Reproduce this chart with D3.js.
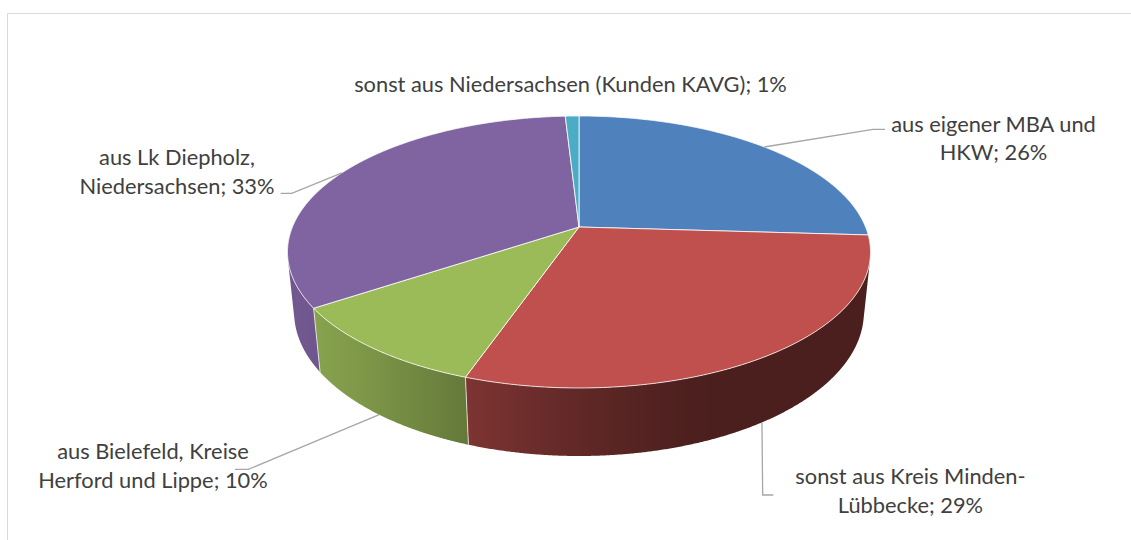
<!DOCTYPE html>
<html><head><meta charset="utf-8">
<script src="https://cdn.jsdelivr.net/npm/d3@7"></script>
<style>body{margin:0;background:#fff;} svg{display:block;}</style>
</head><body>
<svg id="chart" width="1131" height="540"></svg>
<script>
// ---- data ----
const categories = ["aus eigener MBA und HKW", "sonst aus Kreis Minden-Lübbecke", "aus Bielefeld, Kreise Herford und Lippe", "aus Lk Diepholz, Niedersachsen", "sonst aus Niedersachsen (Kunden KAVG)"];
const values = [25.9, 29.3, 10.3, 33.4, 0.9];
const labelWraps = [["aus eigener MBA und", "HKW"], ["sonst aus Kreis Minden-", "Lübbecke"], ["aus Bielefeld, Kreise", "Herford und Lippe"], ["aus Lk Diepholz,", "Niedersachsen"], ["sonst aus Niedersachsen (Kunden KAVG)"]];
const colors = ["#4f81bd", "#c0504d", "#9bbb59", "#8064a2", "#4bacc6"];

// ---- layout ----
const labelPos = [{x: 993.5, y: 131.7}, {x: 910.5, y: 484}, {x: 153, y: 459.3}, {x: 177, y: 165}, {x: 570.5, y: 92}];
const leaders = [
  {rim: "top", pts: [[873, 129.3], [885, 129.3]]},
  {rim: "bottom", pts: [[762.7, 495], [773.3, 495]]},
  {rim: "bottom", pts: [[248.3, 469.3], [235, 469.3]]},
  {rim: "top", pts: [[291.7, 193.3], [280.7, 193.3]]},
  null
];
const lineGap = 28.5;

const svg = d3.select("#chart");
svg.append("rect").attr("x", 7.5).attr("y", 13.5).attr("width", 1200).attr("height", 600)
  .attr("fill", "none").attr("stroke", "#d9d9d9").attr("stroke-width", 1);

// perspective projection of the pie
const cx = 579, cy = 227, F = 1386.4, K = 4.838, phi = 27.29 * Math.PI / 180;
const S = Math.sin(phi), C = Math.cos(phi), H = 0.2384;
function proj(t, h) {
  const X = Math.sin(t), Z = -Math.cos(t), Y = h;
  const up = Y * C - Z * S;
  const tw = Y * S + Z * C;
  const d = K - tw;
  return [cx + F * X / d, cy - F * up / d];
}
const rad = Math.PI / 180;
const visA = Math.acos(-1 / (K * C)), visB = 2 * Math.PI - visA;

const pie = d3.pie().sort(null).value(d => d).startAngle(0).endAngle(2 * Math.PI);
const arcs = pie(values);
const total = d3.sum(values);

function samples(a0, a1) {
  const n = Math.max(2, Math.ceil((a1 - a0) / (0.25 * rad)));
  return d3.range(n + 1).map(i => a0 + (a1 - a0) * i / n);
}
const line = d3.line();
const closed = d3.line().curve(d3.curveLinearClosed);

function shade(t) {
  const c = Math.max(0, Math.cos(t - 245 * rad));
  return 0.39 + 0.49 * Math.pow(c, 1.7);
}
const defs = svg.append("defs");

// side walls
const gWall = svg.append("g");
arcs.forEach((a, i) => {
  const a0 = Math.max(a.startAngle, visA), a1 = Math.min(a.endAngle, visB);
  if (a1 <= a0) return;
  const ts = samples(a0, a1);
  const top = ts.map(t => proj(t, 0));
  const bot = ts.slice().reverse().map(t => proj(t, -H));
  const xl = proj(a1, 0)[0], xr = proj(a0, 0)[0];
  const base = d3.rgb(colors[i]);
  const grad = defs.append("linearGradient").attr("id", "wall" + i)
    .attr("gradientUnits", "userSpaceOnUse").attr("x1", xl).attr("x2", xr).attr("y1", 0).attr("y2", 0);
  samples(a0, a1).filter((d, j, arr) => j % 8 === 0 || j === arr.length - 1).reverse().forEach(t => {
    const x = proj(t, 0)[0];
    const f = shade(t);
    grad.append("stop").attr("offset", (xr === xl ? 0 : (x - xl) / (xr - xl)))
      .attr("stop-color", d3.rgb(base.r * f, base.g * f, base.b * f).formatHex());
  });
  gWall.append("path").attr("d", closed(top.concat(bot))).attr("fill", `url(#wall${i})`);
});
// wall boundary lines
arcs.forEach(a => {
  const t = a.startAngle;
  if (t > visA && t < visB) {
    gWall.append("path").attr("d", line([proj(t, 0), proj(t, -H)]))
      .attr("stroke", "#ffffff").attr("stroke-opacity", 0.7).attr("stroke-width", 1);
  }
});

// top faces
const gTop = svg.append("g");
arcs.forEach((a, i) => {
  const pts = [[cx, cy]].concat(samples(a.startAngle, a.endAngle).map(t => proj(t, 0)));
  gTop.append("path").attr("d", closed(pts)).attr("fill", colors[i])
    .attr("stroke", "#ffffff").attr("stroke-opacity", 0.8).attr("stroke-width", 1).attr("stroke-linejoin", "round");
});

// leader lines
arcs.forEach((a, i) => {
  const L = leaders[i];
  if (!L) return;
  const mid = (a.startAngle + a.endAngle) / 2;
  const start = proj(mid, L.rim === "top" ? 0 : -H);
  svg.append("path").attr("d", line([start].concat(L.pts)))
    .attr("fill", "none").attr("stroke", "#a6a6a6").attr("stroke-width", 1.3);
});

// labels
const fontFamily = "Lato, 'Open Sans', sans-serif";
const gLab = svg.append("g").attr("font-family", fontFamily).attr("fill", "#404040").attr("text-anchor", "middle");
const texts = [];
arcs.forEach((a, i) => {
  const pct = Math.round(a.value / total * 100);
  const lines = labelWraps[i].slice();
  lines[lines.length - 1] = lines[lines.length - 1] + "; " + pct + "%";
  lines.forEach((s, j) => {
    const t = gLab.append("text").attr("x", labelPos[i].x).attr("y", labelPos[i].y + j * lineGap).text(s);
    texts.push(t);
  });
});
// fit font size so the widest single-line label matches reference width
gLab.attr("font-size", 20);
const ref = texts[texts.length - 1].node().getComputedTextLength();
const fs = 20 * 433 / ref;
gLab.attr("font-size", fs.toFixed(2));
</script>
</body></html>
